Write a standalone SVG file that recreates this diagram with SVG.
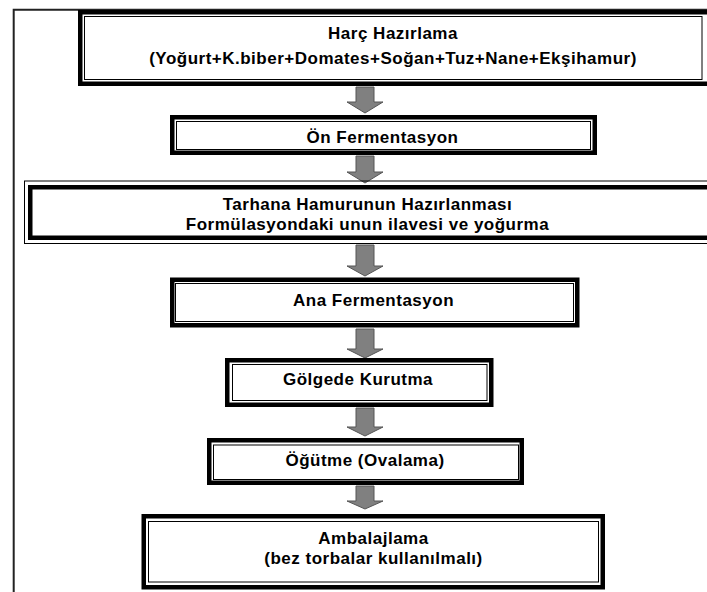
<svg xmlns="http://www.w3.org/2000/svg" width="707" height="592" viewBox="0 0 707 592">
<style>
.thick{fill:#fff;stroke:#000;stroke-width:4.5}
.thin{fill:none;stroke:#000;stroke-width:1}
.lbl{font-family:"Liberation Sans",Arial,sans-serif;font-weight:bold;font-size:17px;letter-spacing:0.5px;text-anchor:middle;fill:#000}
.arr{fill:#808080;stroke:#555;stroke-width:1}
</style>
<rect width="707" height="592" fill="#fff"/>
<path d="M13.7,600 V9.8 H720" fill="none" stroke="#222" stroke-width="2"/>
<g id="connectors">
<path class="arr" d="M356,87 H374 V102 H383 L365,113 L347,102 H356 Z"/>
<path class="arr" d="M356,156 H374 V172 H383 L365,183 L347,172 H356 Z"/>
<path class="arr" d="M356,245 H374 V266 H383 L365,276 L347,266 H356 Z"/>
<path class="arr" d="M356,329 H374 V349 H383 L365,358 L347,349 H356 Z"/>
<path class="arr" d="M356,408 H374 V427 H383 L365,436 L347,427 H356 Z"/>
<path class="arr" d="M356,486 H374 V501 H383 L365,509 L347,501 H356 Z"/>
</g>
<g id="n1">
<rect class="thick" x="80.25" y="12.25" width="630" height="71.5"/>
<rect class="thin" x="84.5" y="16.5" width="617.5" height="63"/>
<text class="lbl" x="393" y="39">Harç Hazırlama</text>
<text class="lbl" x="393" y="64">(Yoğurt+K.biber+Domates+Soğan+Tuz+Nane+Ekşihamur)</text>
</g>
<g id="n2">
<rect class="thick" x="172.25" y="117.25" width="422.5" height="35.5"/>
<rect class="thin" x="176.5" y="121.5" width="414" height="28"/>
<text class="lbl" x="382.5" y="142.5">Ön Fermentasyon</text>
</g>
<g id="n3">
<rect class="thin" x="24.5" y="181" width="700" height="62.5" fill="#fff"/>
<rect class="thick" x="30.25" y="187.25" width="690" height="50.5"/>
<text class="lbl" x="367.5" y="209.5">Tarhana Hamurunun Hazırlanması</text>
<text class="lbl" x="367.5" y="230">Formülasyondaki unun ilavesi ve yoğurma</text>
</g>
<g id="n4">
<rect class="thick" x="172.25" y="279.75" width="405" height="45.5"/>
<rect class="thin" x="175.5" y="283.5" width="398" height="38"/>
<text class="lbl" x="373.5" y="305.5">Ana Fermentasyon</text>
</g>
<g id="n5">
<rect class="thick" x="227.25" y="360.25" width="264" height="44.5"/>
<rect class="thin" x="232.5" y="364.5" width="254.5" height="36"/>
<text class="lbl" x="358" y="385">Gölgede Kurutma</text>
</g>
<g id="n6">
<rect class="thick" x="209.25" y="440.25" width="312.5" height="42.5"/>
<rect class="thin" x="213.5" y="445" width="305" height="34.5"/>
<text class="lbl" x="365" y="466">Öğütme (Ovalama)</text>
</g>
<g id="n7">
<rect class="thick" x="143.75" y="516.25" width="459" height="71"/>
<rect class="thin" x="148.5" y="521.5" width="450" height="60.5"/>
<text class="lbl" x="373.5" y="544">Ambalajlama</text>
<text class="lbl" x="373.5" y="564">(bez torbalar kullanılmalı)</text>
</g>
</svg>
